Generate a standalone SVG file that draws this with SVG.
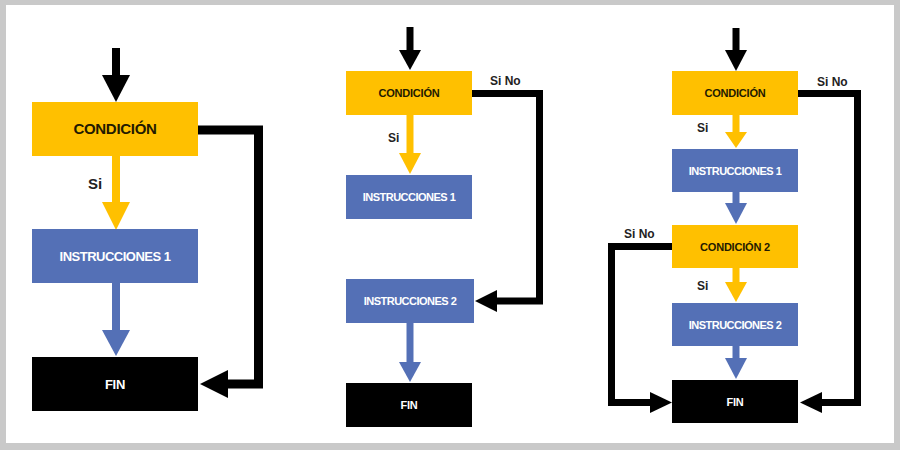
<svg xmlns="http://www.w3.org/2000/svg" width="900" height="450" viewBox="0 0 900 450">
<style>
.cond{fill:#FFC000}
.ins{fill:#5470B6}
.fin{fill:#000}
.t{font-family:"Liberation Sans",Arial,sans-serif;font-weight:bold;text-anchor:middle}
.tc{fill:#231a00}
.tw{fill:#fff}
.lbl{font-family:"Liberation Sans",Arial,sans-serif;font-weight:bold;fill:#222}
.k{stroke:#000;fill:none;stroke-linejoin:miter}
.y{stroke:#FFC000;fill:none}
.b{stroke:#5470B6;fill:none}
.hk{fill:#000}
.hy{fill:#FFC000}
.hb{fill:#5470B6}
</style>
<rect x="0" y="0" width="900" height="450" fill="#c9c9c9"/>
<rect x="6" y="5" width="888" height="438" fill="#fff"/>

<g id="connectors">
  <!-- panel 1 -->
  <line class="k" x1="116" y1="48" x2="116" y2="76" stroke-width="8"/>
  <polygon class="hk" points="102,75 130,75 116,102"/>
  <line class="y" x1="116" y1="156" x2="116" y2="203" stroke-width="8"/>
  <polygon class="hy" points="102,202 130,202 116,230"/>
  <line class="b" x1="116" y1="283" x2="116" y2="331" stroke-width="8"/>
  <polygon class="hb" points="102,330 130,330 116,356"/>
  <polyline class="k" points="198,130 258.5,130 258.5,384 227,384" stroke-width="9"/>
  <polygon class="hk" points="228,370 228,398 200,384"/>
  <!-- panel 2 -->
  <line class="k" x1="410" y1="27" x2="410" y2="51" stroke-width="7"/>
  <polygon class="hk" points="399,50 421,50 410,70"/>
  <line class="y" x1="410" y1="115" x2="410" y2="154" stroke-width="7"/>
  <polygon class="hy" points="399,153 421,153 410,174"/>
  <line class="b" x1="410" y1="323" x2="410" y2="363" stroke-width="7"/>
  <polygon class="hb" points="399,362 421,362 410,382"/>
  <polyline class="k" points="472,93.5 539.5,93.5 539.5,301 496,301" stroke-width="7"/>
  <polygon class="hk" points="497,290 497,312 475,301"/>
  <!-- panel 3 -->
  <line class="k" x1="736" y1="28" x2="736" y2="51" stroke-width="7"/>
  <polygon class="hk" points="725,50 747,50 736,71"/>
  <line class="y" x1="736" y1="115" x2="736" y2="133" stroke-width="7"/>
  <polygon class="hy" points="725,132 747,132 736,148"/>
  <line class="b" x1="736" y1="192" x2="736" y2="204" stroke-width="7"/>
  <polygon class="hb" points="725,203 747,203 736,224"/>
  <line class="y" x1="736" y1="268" x2="736" y2="283" stroke-width="7"/>
  <polygon class="hy" points="725,282 747,282 736,302"/>
  <line class="b" x1="736" y1="346" x2="736" y2="359" stroke-width="7"/>
  <polygon class="hb" points="725,358 747,358 736,379"/>
  <polyline class="k" points="798,93.5 857.5,93.5 857.5,402.5 821,402.5" stroke-width="7"/>
  <polygon class="hk" points="822,392 822,413 800,402.5"/>
  <polyline class="k" points="672,246.5 611.5,246.5 611.5,402.5 651,402.5" stroke-width="7"/>
  <polygon class="hk" points="650,392 650,413 672,402.5"/>
</g>

<g id="labels">
  <text class="lbl" x="88" y="189" font-size="15">Si</text>
  <text class="lbl" x="490" y="84.5" font-size="12">Si No</text>
  <text class="lbl" x="388" y="141.5" font-size="12">Si</text>
  <text class="lbl" x="817" y="85.5" font-size="12">Si No</text>
  <text class="lbl" x="697" y="132" font-size="12">Si</text>
  <text class="lbl" x="624" y="237.5" font-size="12">Si No</text>
  <text class="lbl" x="697" y="289.5" font-size="12">Si</text>
</g>

<!-- panel 1 nodes -->
<g id="p1-condicion">
  <rect class="cond" x="32" y="102" width="166" height="54"/>
  <text class="t tc" x="115" y="134" font-size="15" letter-spacing="-0.3">CONDICIÓN</text>
</g>
<g id="p1-instrucciones1">
  <rect class="ins" x="32" y="229" width="166" height="54"/>
  <text class="t tw" x="115" y="260.5" font-size="13" letter-spacing="-0.5">INSTRUCCIONES 1</text>
</g>
<g id="p1-fin">
  <rect class="fin" x="32" y="357" width="166" height="54"/>
  <text class="t tw" x="115" y="388.5" font-size="13" letter-spacing="-0.3">FIN</text>
</g>

<!-- panel 2 nodes -->
<g id="p2-condicion">
  <rect class="cond" x="346" y="71" width="126" height="44"/>
  <text class="t tc" x="409" y="97" font-size="11" letter-spacing="-0.2">CONDICIÓN</text>
</g>
<g id="p2-instrucciones1">
  <rect class="ins" x="346" y="175" width="126" height="44"/>
  <text class="t tw" x="409" y="201" font-size="11" letter-spacing="-0.5">INSTRUCCIONES 1</text>
</g>
<g id="p2-instrucciones2">
  <rect class="ins" x="346" y="279" width="128" height="44"/>
  <text class="t tw" x="410" y="305" font-size="11" letter-spacing="-0.5">INSTRUCCIONES 2</text>
</g>
<g id="p2-fin">
  <rect class="fin" x="346" y="383" width="126" height="44"/>
  <text class="t tw" x="409" y="409" font-size="11" letter-spacing="-0.3">FIN</text>
</g>

<!-- panel 3 nodes -->
<g id="p3-condicion">
  <rect class="cond" x="672" y="71" width="126" height="44"/>
  <text class="t tc" x="735" y="97" font-size="11" letter-spacing="-0.2">CONDICIÓN</text>
</g>
<g id="p3-instrucciones1">
  <rect class="ins" x="672" y="149" width="126" height="43"/>
  <text class="t tw" x="735" y="174.5" font-size="11" letter-spacing="-0.5">INSTRUCCIONES 1</text>
</g>
<g id="p3-condicion2">
  <rect class="cond" x="672" y="225" width="126" height="43"/>
  <text class="t tc" x="735" y="250.5" font-size="11" letter-spacing="-0.2">CONDICIÓN 2</text>
</g>
<g id="p3-instrucciones2">
  <rect class="ins" x="672" y="303" width="126" height="43"/>
  <text class="t tw" x="735" y="328.5" font-size="11" letter-spacing="-0.5">INSTRUCCIONES 2</text>
</g>
<g id="p3-fin">
  <rect class="fin" x="672" y="380" width="126" height="43"/>
  <text class="t tw" x="735" y="405.5" font-size="11" letter-spacing="-0.3">FIN</text>
</g>
</svg>
